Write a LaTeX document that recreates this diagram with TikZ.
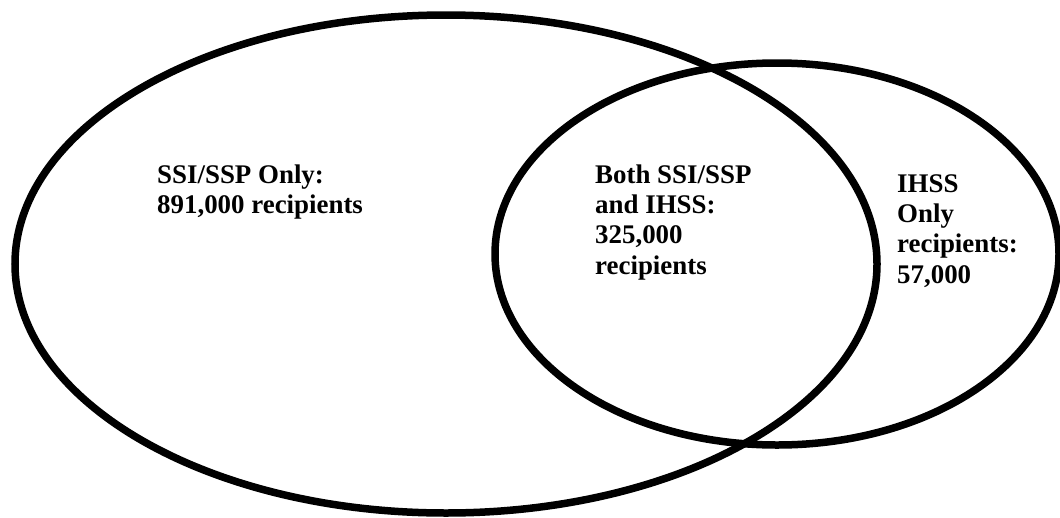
\documentclass[tikz,border=0pt]{standalone}
\usepackage{fontspec}
\setmainfont{Liberation Serif}
\begin{document}
\begin{tikzpicture}[x=1pt,y=-1pt,
  ring/.style={draw=black,line width=7.5pt},
  lbl/.style={anchor=base west,inner sep=0pt,align=left,
    font=\fontsize{26.9}{30.3}\selectfont\bfseries}]
\useasboundingbox (0,0) rectangle (1060,517);
\draw[ring] (446,264) ellipse [x radius=431, y radius=249];
\draw[ring] (777,254) ellipse [x radius=282, y radius=191];
\node[lbl] (ssi) at (157,213.5) {SSI/SSP Only:\\891,000 recipients};
\node[lbl] (both) at (595,274) {Both SSI/SSP\\and IHSS:\\325,000\\recipients};
\node[lbl] (ihss) at (897,283) {IHSS\\Only\\recipients:\\57,000};
\end{tikzpicture}
\end{document}
